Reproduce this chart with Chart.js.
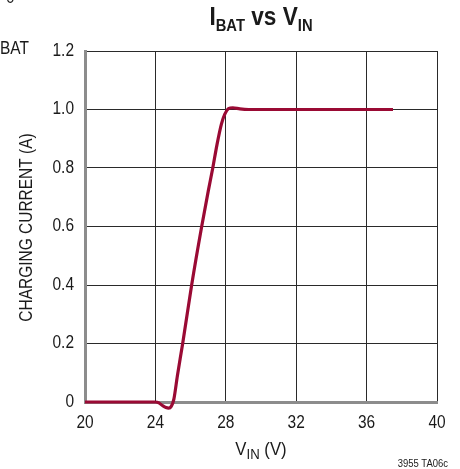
<!DOCTYPE html>
<html lang="en">
<head>
  <meta charset="UTF-8">
  <title>IBAT vs VIN</title>
  <script src="https://cdn.jsdelivr.net/npm/chart.js"></script>
  <style>
    body { margin: 0; background: #fff; }
    canvas { display: block; }
  </style>
</head>
<body>
  <canvas id="chart" width="460" height="469"></canvas>
  <script>
    // Input voltage (V) and charging current (A)
    const vin = [20, 24, 24.2, 24.4, 24.6, 24.75, 24.9, 25.05, 25.25, 25.55, 26.06, 26.63, 27.0, 27.26, 27.5, 27.75, 27.95, 28.15, 28.4, 28.8, 29.3, 30, 34, 37.5];
    const ichg = [0, 0, -0.003, -0.012, -0.019, -0.021, -0.015, 0.01, 0.09, 0.2, 0.4, 0.6, 0.72, 0.8, 0.88, 0.95, 0.985, 1.003, 1.006, 1.002, 1.0, 1.0, 1.0, 1.0];
    const xTicks = [20, 24, 28, 32, 36, 40];
    const yTicks = [0, 0.2, 0.4, 0.6, 0.8, 1.0, 1.2];
    const yTickLabels = ['0', '0.2', '0.4', '0.6', '0.8', '1.0', '1.2'];

    const FONT = "'Liberation Sans', Arial, sans-serif";
    const SQUEEZE = 0.86; // fake a condensed face

    // text squeezed horizontally, anchored at x according to align
    function narrowText(ctx, str, x, y, size, weight, align, baseline) {
      ctx.font = weight + ' ' + size + 'px ' + FONT;
      ctx.textAlign = align;
      ctx.textBaseline = baseline || 'alphabetic';
      ctx.save();
      ctx.translate(x, y);
      ctx.scale(SQUEEZE, 1);
      ctx.fillText(str, 0, 0);
      ctx.restore();
    }

    // draws a string made of [text, isSub] parts, centered at cx
    function drawParts(ctx, parts, cx, baseY, size, subSize, weight, sq) {
      let total = 0;
      parts.forEach(p => {
        ctx.font = weight + ' ' + (p[1] ? subSize : size) + 'px ' + FONT;
        total += ctx.measureText(p[0]).width * sq;
      });
      let x = cx - total / 2;
      ctx.textAlign = 'left';
      ctx.textBaseline = 'alphabetic';
      parts.forEach(p => {
        ctx.font = weight + ' ' + (p[1] ? subSize : size) + 'px ' + FONT;
        ctx.save();
        ctx.translate(x, baseY + (p[1] ? size * 0.22 : 0));
        ctx.scale(sq, 1);
        ctx.fillText(p[0], 0, 0);
        ctx.restore();
        x += ctx.measureText(p[0]).width * sq;
      });
    }

    const textPlugin = {
      id: 'texts',
      afterDraw(chart) {
        const ctx = chart.ctx;
        const area = chart.chartArea;
        const xs = chart.scales.x, ys = chart.scales.y;
        const cx = (area.left + area.right) / 2;
        ctx.save();
        ctx.fillStyle = '#1a1a1a';
        // tick labels
        xTicks.forEach(v => narrowText(ctx, String(v), xs.getPixelForValue(v), 423, 18, 'normal', 'center', 'middle'));
        yTicks.forEach((v, i) => narrowText(ctx, yTickLabels[i], 74, ys.getPixelForValue(v), 18, 'normal', 'right', 'middle'));
        // y axis title
        ctx.save();
        ctx.translate(27, (area.top + area.bottom) / 2 + 1);
        ctx.rotate(-Math.PI / 2);
        narrowText(ctx, 'CHARGING CURRENT (A)', 0, 0, 18, 'normal', 'center', 'middle');
        ctx.restore();
        // title
        drawParts(ctx, [['I', false], ['BAT', true], [' vs ', false], ['V', false], ['IN', true]], cx, 25, 26, 17, 'bold', 0.87);
        // x axis title
        drawParts(ctx, [['V', false], ['IN', true], [' (V)', false]], cx, 455, 19, 15, 'normal', 0.88);
        // figure code
        narrowText(ctx, '3955 TA06c', 448, 467, 11, 'normal', 'right');
        // fragments of the neighbouring figure
        narrowText(ctx, '0', 6, 3, 18, 'normal', 'left');
        narrowText(ctx, 'BAT', 0, 54, 18, 'normal', 'left');
        ctx.restore();
      }
    };

    new Chart(document.getElementById('chart'), {
      type: 'line',
      data: {
        datasets: [{
          data: vin.map((v, i) => ({ x: v, y: ichg[i] })),
          borderColor: '#9a0a34',
          borderWidth: 3.2,
          pointRadius: 0,
          cubicInterpolationMode: 'monotone',
          clip: false
        }]
      },
      options: {
        responsive: false,
        animation: false,
        layout: { padding: { top: 51, right: 23, bottom: 0, left: 0 } },
        plugins: { legend: { display: false }, tooltip: { enabled: false } },
        scales: {
          x: {
            type: 'linear',
            min: 20, max: 40,
            afterBuildTicks: s => { s.ticks = xTicks.map(v => ({ value: v })); },
            afterFit: s => { s.height = 67; },
            ticks: { display: false },
            grid: { color: '#2a2a2a', lineWidth: 1, drawTicks: false },
            border: { color: '#8c8c8c', width: 3 }
          },
          y: {
            min: 0, max: 1.2,
            afterBuildTicks: s => { s.ticks = yTicks.map(v => ({ value: v })); },
            afterFit: s => { s.width = 85; },
            ticks: { display: false },
            grid: { color: '#2a2a2a', lineWidth: 1, drawTicks: false },
            border: { color: '#8c8c8c', width: 3 }
          }
        }
      },
      plugins: [textPlugin]
    });
  </script>
</body>
</html>
